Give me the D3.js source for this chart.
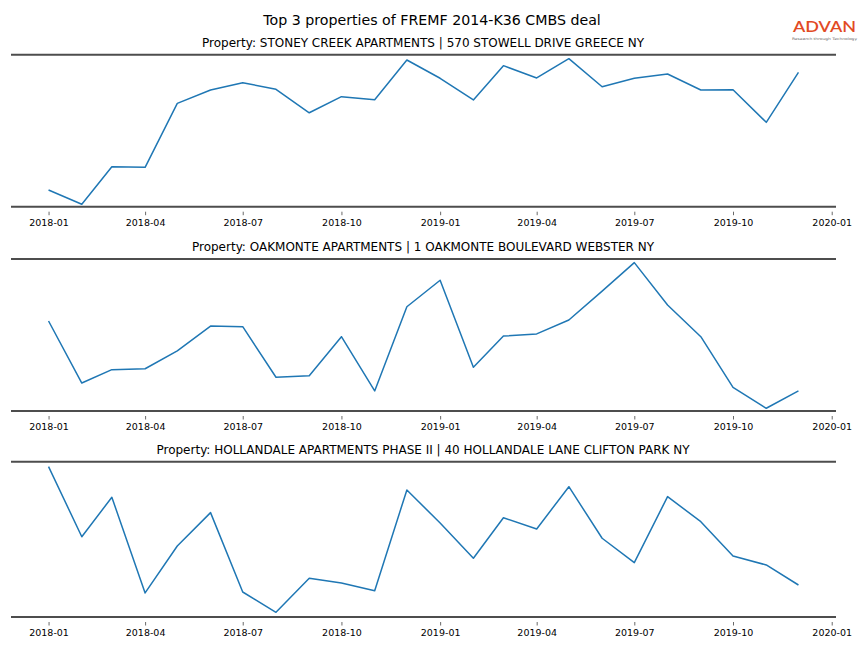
<!DOCTYPE html>
<html>
<head>
<meta charset="utf-8">
<script src="https://cdn.jsdelivr.net/npm/d3@7"></script>
<style>
  html, body { margin: 0; padding: 0; background: #fff; }
  svg { display: block; font-family: "DejaVu Sans", sans-serif; }
</style>
</head>
<body>
<svg id="chart" width="864" height="648"></svg>
<script>
// ---- Data ----
const months = ["2018-01","2018-02","2018-03","2018-04","2018-05","2018-06","2018-07","2018-08","2018-09","2018-10","2018-11","2018-12",
                "2019-01","2019-02","2019-03","2019-04","2019-05","2019-06","2019-07","2019-08","2019-09","2019-10","2019-11","2019-12"];
const tickLabels = ["2018-01","2018-04","2018-07","2018-10","2019-01","2019-04","2019-07","2019-10","2020-01"];
const titles = [
  "Property: STONEY CREEK APARTMENTS | 570 STOWELL DRIVE GREECE NY",
  "Property: OAKMONTE APARTMENTS | 1 OAKMONTE BOULEVARD WEBSTER NY",
  "Property: HOLLANDALE APARTMENTS PHASE II | 40 HOLLANDALE LANE CLIFTON PARK NY"
];
const stoneyCreek = [11.0, 1.6, 26.3, 25.9, 68.0, 76.8, 81.6, 77.2, 61.8, 72.4, 70.4, 96.5,
                     84.5, 70.2, 92.8, 84.7, 97.4, 78.9, 84.5, 87.3, 76.8, 77.0, 55.5, 88.4];
const oakmonte = [59.2, 18.4, 27.2, 27.8, 39.5, 55.9, 55.5, 22.2, 23.2, 48.9, 13.2, 68.6,
                  86.0, 28.8, 49.3, 50.7, 59.9, 78.9, 97.6, 69.7, 48.9, 15.6, 1.8, 13.2];
const hollandale = [96.8, 51.7, 77.1, 15.5, 45.7, 67.2, 16.1, 3.0, 24.9, 21.9, 16.9, 81.8,
                    60.5, 37.8, 63.9, 56.7, 83.9, 50.7, 35.0, 77.5, 61.4, 39.3, 33.5, 20.6];
const seriesList = [stoneyCreek, oakmonte, hollandale];
const mainTitle = "Top 3 properties of FREMF 2014-K36 CMBS deal";

// ---- Layout ----
const svg = d3.select("#chart");
const parse = d3.timeParse("%Y-%m");
const panels = [
  {top: 54.7, bottom: 206.7},
  {top: 259, bottom: 411},
  {top: 461.7, bottom: 617}
];
const xLeft = 11, xRight = 836;
const x = d3.scaleTime()
  .domain([d3.timeDay.offset(parse("2018-01"), -35), d3.timeDay.offset(parse("2019-12"), 35)])
  .range([xLeft, xRight]);

svg.append("text")
  .attr("x", 432).attr("y", 24.5)
  .attr("text-anchor", "middle")
  .attr("font-size", 14.2)
  .attr("fill", "#000")
  .text(mainTitle);

// Logo
svg.append("text")
  .attr("x", 793).attr("y", 32)
  .attr("font-size", 15)
  .attr("font-weight", 600)
  .attr("font-family", "Lato, 'DejaVu Sans', sans-serif")
  .attr("fill", "#e24a24")
  .attr("textLength", 63)
  .attr("lengthAdjust", "spacingAndGlyphs")
  .text("ADVAN");
svg.append("text")
  .attr("x", 792).attr("y", 39.5)
  .attr("font-size", 3.4)
  .attr("fill", "#666")
  .attr("textLength", 65)
  .attr("lengthAdjust", "spacingAndGlyphs")
  .text("Research through Technology");

panels.forEach((p, i) => {
  const y = d3.scaleLinear().domain([0, 100]).range([p.bottom, p.top]);
  const g = svg.append("g");

  g.append("text")
    .attr("x", 423).attr("y", p.top - 8.2)
    .attr("text-anchor", "middle")
    .attr("font-size", 12)
    .attr("fill", "#000")
    .text(titles[i]);

  // spines top & bottom
  [p.top, p.bottom].forEach(yy => {
    g.append("line")
      .attr("x1", xLeft).attr("x2", xRight)
      .attr("y1", yy).attr("y2", yy)
      .attr("stroke", "#4d4d4d").attr("stroke-width", 2);
  });

  // x axis
  const axis = d3.axisBottom(x)
    .tickValues(tickLabels.map(parse))
    .tickFormat(d3.timeFormat("%Y-%m"))
    .tickSize(3.5)
    .tickPadding(4);
  const ax = g.append("g")
    .attr("transform", `translate(0,${p.bottom + 5})`)
    .call(axis);
  ax.select(".domain").remove();
  ax.selectAll(".tick line").attr("stroke", "#444").attr("stroke-width", 0.8);
  ax.selectAll(".tick text")
    .attr("font-size", 9.5)
    .attr("font-family", "'DejaVu Sans', sans-serif")
    .attr("fill", "#000");

  const line = d3.line()
    .x((d, j) => x(parse(months[j])))
    .y(d => y(d));
  g.append("path")
    .datum(seriesList[i])
    .attr("d", line)
    .attr("fill", "none")
    .attr("stroke", "#1f77b4")
    .attr("stroke-width", 1.5)
    .attr("stroke-linejoin", "round");
});
</script>
</body>
</html>
